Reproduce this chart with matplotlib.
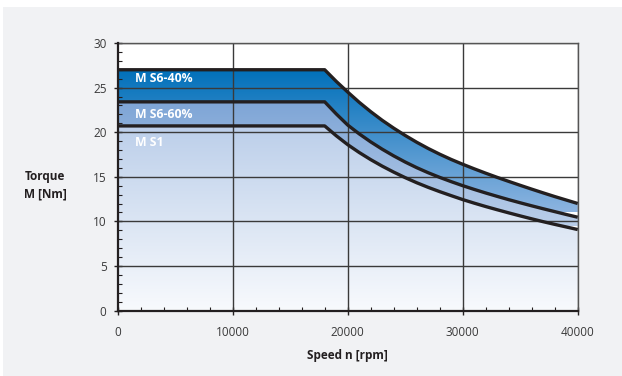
import numpy as np
import matplotlib
matplotlib.use('Agg')
import matplotlib.pyplot as plt
from matplotlib.colors import LinearSegmentedColormap
from matplotlib.patches import Rectangle
from matplotlib.ticker import MultipleLocator

plt.rcParams['font.family'] = ['Open Sans', 'DejaVu Sans']

# -------- data --------
speed = [0, 18000, 19000, 20000, 21000, 22000, 23000, 24000, 25000, 26000,
         27000, 28000, 29000, 30000, 31000, 32000, 33000, 34000, 35000,
         36000, 37000, 38000, 39000, 40000]
torque_s6_40 = [27.0, 27.0, 25.70, 24.50, 23.35, 22.30, 21.33, 20.45, 19.63, 18.87,
                18.17, 17.53, 16.94, 16.40, 15.89, 15.40, 14.93, 14.48, 14.04,
                13.61, 13.19, 12.78, 12.39, 12.00]
torque_s6_60 = [23.4, 23.4, 22.05, 20.80, 19.81, 18.91, 18.09, 17.34, 16.65, 16.02,
                15.45, 14.93, 14.45, 14.00, 13.58, 13.18, 12.80, 12.43, 12.08,
                11.74, 11.41, 11.09, 10.77, 10.46]
torque_s1 = [20.7, 20.7, 19.60, 18.60, 17.72, 16.92, 16.19, 15.52, 14.90, 14.33,
             13.81, 13.33, 12.88, 12.44, 12.04, 11.66, 11.30, 10.95, 10.61,
             10.28, 9.96, 9.66, 9.37, 9.08]

band_labels = ['M S6-40%', 'M S6-60%', 'M S1']
label_y = [26.0, 21.95, 18.8]

x_ticks = [0, 10000, 20000, 30000, 40000]
y_ticks = [0, 5, 10, 15, 20, 25, 30]

# -------- figure --------
fig = plt.figure(figsize=(6.22, 3.76), dpi=100)
fig.patch.set_facecolor('white')
fig.patches.append(Rectangle((3 / 622, 0), 1, 1 - 7 / 376, transform=fig.transFigure,
                             facecolor='#f1f2f4', edgecolor='none', zorder=-10))

ax = fig.add_axes([117.7 / 622, 1 - 310.5 / 376, 460 / 622, 267.5 / 376])
ax.set_facecolor('white')
ax.set_xlim(0, 40000)
ax.set_ylim(0, 30)


def gradient_band(lower, upper, c_top, c_bot, y_top, y_bot):
    poly = ax.fill_between(speed, lower, upper, facecolor='none', edgecolor='none')
    cmap = LinearSegmentedColormap.from_list('g', [c_bot, c_top])
    grad = np.linspace(0, 1, 256).reshape(-1, 1)
    im = ax.imshow(grad, cmap=cmap, aspect='auto', origin='lower',
                   extent=[0, 40000, y_bot, y_top], zorder=1)
    im.set_clip_path(poly.get_paths()[0], transform=ax.transData)


gradient_band(torque_s6_60, torque_s6_40, '#0070ba', '#8db4e0', 27.0, 11.0)
gradient_band(torque_s1, torque_s6_60, '#7ea5d6', '#bacee9', 23.4, 9.5)
gradient_band([0] * len(speed), torque_s1, '#bccfea', '#f8fafd', 20.7, 0.0)

# grid
for xv in x_ticks[1:]:
    ax.axvline(xv, color='#3a3a3a', lw=1.0, zorder=2)
for yv in y_ticks[1:]:
    ax.axhline(yv, color='#3a3a3a', lw=1.0, zorder=2)

for t in (torque_s6_40, torque_s6_60, torque_s1):
    ax.plot(speed, t, color='#231f20', lw=2.4, zorder=4, solid_capstyle='butt',
            solid_joinstyle='round')

for lab, yv in zip(band_labels, label_y):
    ax.text(1500, yv, lab, color='white', fontsize=8.8, fontweight='bold',
            va='center', ha='left', zorder=5)

# axes styling
for side in ('top', 'right'):
    ax.spines[side].set_color('#555555')
    ax.spines[side].set_linewidth(1.0)
for side in ('left', 'bottom'):
    ax.spines[side].set_color('#231f20')
    ax.spines[side].set_linewidth(1.6)
    ax.spines[side].set_zorder(6)

ax.set_xticks(x_ticks)
ax.set_yticks(y_ticks)
ax.xaxis.set_minor_locator(MultipleLocator(2000))
ax.yaxis.set_minor_locator(MultipleLocator(1))
ax.tick_params(which='major', direction='inout', length=6, width=1.0,
               color='#231f20', labelsize=8.5, labelcolor='#3a3a3a')
ax.tick_params(which='minor', direction='in', length=3, width=0.8, color='#231f20')
ax.tick_params(axis='x', which='major', pad=8)
ax.tick_params(axis='y', which='major', pad=5)

ax.set_xlabel('Speed n [rpm]', fontsize=8.5, fontweight='bold', color='#231f20', labelpad=7)
fig.text(45 / 622, 1 - 185 / 376, 'Torque\nM [Nm]', fontsize=8.5, fontweight='bold',
         color='#231f20', ha='center', va='center', linespacing=1.4)

fig.savefig('out.png', dpi=100)
